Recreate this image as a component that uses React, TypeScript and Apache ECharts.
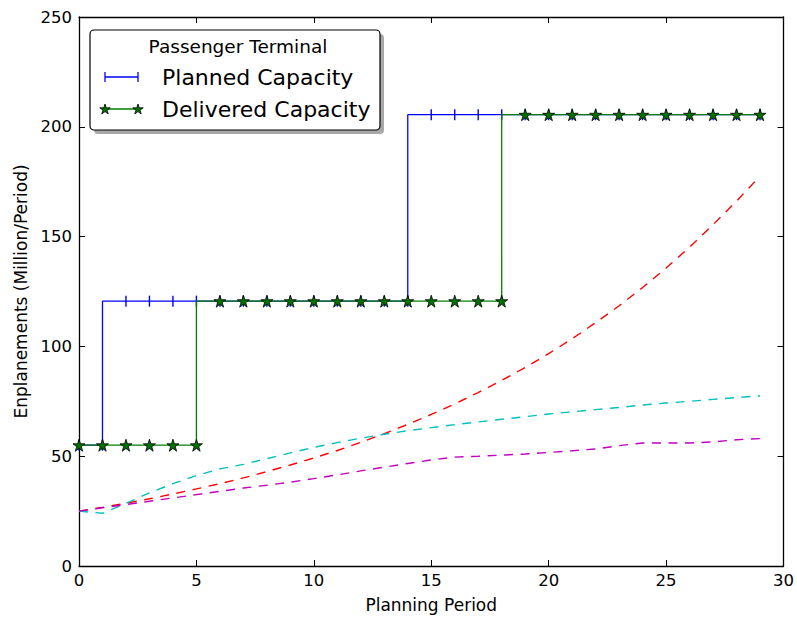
import React, { useEffect, useRef } from "react";
import * as echarts from "echarts";

const periods = [0, 1, 2, 3, 4, 5, 6, 7, 8, 9, 10, 11, 12, 13, 14, 15, 16, 17, 18, 19, 20, 21, 22, 23, 24, 25, 26, 27, 28, 29];
const plannedCapacity = [55, 55, 120.6, 120.6, 120.6, 120.6, 120.6, 120.6, 120.6, 120.6, 120.6, 120.6, 120.6, 120.6, 120.6, 205.5, 205.5, 205.5, 205.5, 205.5, 205.5, 205.5, 205.5, 205.5, 205.5, 205.5, 205.5, 205.5, 205.5, 205.5];
const deliveredCapacity = [55, 55, 55, 55, 55, 55, 120.6, 120.6, 120.6, 120.6, 120.6, 120.6, 120.6, 120.6, 120.6, 120.6, 120.6, 120.6, 120.6, 205.5, 205.5, 205.5, 205.5, 205.5, 205.5, 205.5, 205.5, 205.5, 205.5, 205.5];
const demandHigh = [25, 26.7, 28.6, 30.6, 32.8, 35.1, 37.5, 40.1, 43.0, 46.0, 49.2, 52.6, 56.3, 60.3, 64.5, 69.0, 73.8, 79.0, 84.5, 90.4, 96.7, 103.5, 110.8, 118.5, 126.8, 135.7, 145.2, 155.4, 166.2, 177.5];
const demandMid = [25, 24, 28.5, 33.3, 37.5, 41.2, 44.2, 46.3, 48.9, 51.5, 54.0, 56.2, 58.2, 60, 61.6, 63, 64.4, 65.6, 66.8, 68, 69.2, 70.2, 71.2, 72.2, 73.3, 74.2, 75, 75.9, 76.7, 77.5];
const demandLow = [25, 26.5, 28, 29.5, 31, 32.5, 34, 35.5, 36.8, 38.2, 39.8, 41.5, 43.3, 45, 46.7, 48.3, 49.6, 50, 50.5, 51, 51.7, 52.5, 53.3, 54.8, 56, 56, 56, 56.5, 57.5, 58];
const xTicks = { min: 0, max: 30, interval: 5 };
const yTicks = { min: 0, max: 250, interval: 50 };

const FONT = "DejaVu Sans";
const STAR = "path://M50,0 L61.23,34.55 L97.55,34.55 L68.17,55.9 L79.39,90.45 L50,69.1 L20.61,90.45 L31.83,55.9 L2.45,34.55 L38.77,34.55 Z";
const VBAR = "path://M0,0 L1,0 L1,10 L0,10 Z";

function starPoints(cx: number, cy: number, r: number) {
  const pts: number[][] = [];
  for (let k = 0; k < 10; k++) {
    const rr = k % 2 === 0 ? r : r * 0.382;
    const a = (-90 + k * 36) * Math.PI / 180;
    pts.push([cx + rr * Math.cos(a), cy + rr * Math.sin(a)]);
  }
  return pts;
}

const pair = (ys: number[]) => periods.map((x, i) => [x, ys[i]]);

export default function App() {
  const ref = useRef<HTMLDivElement>(null);
  useEffect(() => {
    document.body.style.margin = "0";
    if (!ref.current) return;
    const chart = echarts.init(ref.current, undefined, { renderer: "svg" });
    const axisCommon = {
      type: "value" as const,
      axisLine: { show: true, onZero: false, lineStyle: { color: "#000", width: 1.3 } },
      axisTick: { show: true, inside: true, length: 6, lineStyle: { color: "#000", width: 1 } },
      splitLine: { show: false },
    };
    const dashed = (name: string, color: string, ys: number[]) => ({
      name,
      type: "line",
      data: pair(ys),
      symbol: "none",
      lineStyle: { color, width: 1.4, type: [9, 7.5] },
      itemStyle: { color },
      z: 3,
    });
    const legendX = 90, legendY = 30, legendW = 290, legendH = 100;
    chart.setOption({
      animation: false,
      textStyle: { fontFamily: FONT },
      grid: { left: 79, right: 11, top: 17, bottom: 54, containLabel: false },
      xAxis: [
        {
          ...axisCommon,
          position: "bottom",
          ...xTicks,
          name: "Planning Period",
          nameLocation: "middle",
          nameGap: 30,
          nameTextStyle: { fontSize: 17, color: "#000", fontFamily: FONT },
          axisLabel: { fontSize: 16.5, color: "#000", margin: 6, fontFamily: FONT },
        },
        {
          ...axisCommon,
          position: "top",
          ...xTicks,
          axisLabel: { show: false },
        },
      ],
      yAxis: [
        {
          ...axisCommon,
          position: "left",
          ...yTicks,
          name: "Enplanements (Million/Period)",
          nameLocation: "middle",
          nameGap: 48,
          nameRotate: 90,
          nameTextStyle: { fontSize: 17, color: "#000", fontFamily: FONT },
          axisLabel: { fontSize: 16.5, color: "#000", margin: 7, fontFamily: FONT },
        },
        {
          ...axisCommon,
          position: "right",
          ...yTicks,
          axisLabel: { show: false },
        },
      ],
      series: [
        {
          name: "Planned Capacity",
          type: "line",
          step: "start",
          data: pair(plannedCapacity),
          symbol: VBAR,
          symbolSize: [1.4, 11],
          showAllSymbol: true,
          lineStyle: { color: "#0000ff", width: 1.3 },
          itemStyle: { color: "#0000ff" },
          z: 4,
        },
        {
          name: "Delivered Capacity",
          type: "line",
          step: "start",
          data: pair(deliveredCapacity),
          symbol: STAR,
          symbolSize: 12,
          showAllSymbol: true,
          lineStyle: { color: "#008000", width: 1.3 },
          itemStyle: { color: "#007000", borderColor: "#000", borderWidth: 0.8 },
          z: 5,
        },
        dashed("High", "#ff0000", demandHigh),
        dashed("Mid", "#00bfbf", demandMid),
        dashed("Low", "#bf00bf", demandLow),
      ],
      graphic: [
        {
          type: "group",
          z: 100,
          children: [
            {
              type: "rect",
              shape: { x: legendX + 4, y: legendY + 4, width: legendW, height: legendH, r: 4 },
              style: { fill: "#a8a8a8" },
            },
            {
              type: "rect",
              shape: { x: legendX, y: legendY, width: legendW, height: legendH, r: 4 },
              style: { fill: "#fff", stroke: "#000", lineWidth: 1.2 },
            },
            {
              type: "text",
              x: 238,
              y: 46,
              style: { text: "Passenger Terminal", fontSize: 18.5, fontFamily: FONT, fill: "#000", align: "center", verticalAlign: "middle" },
            },
            {
              type: "line",
              shape: { x1: 105, y1: 77, x2: 138, y2: 77 },
              style: { stroke: "#0000ff", lineWidth: 1.3 },
            },
            {
              type: "line",
              shape: { x1: 105, y1: 72, x2: 105, y2: 82 },
              style: { stroke: "#0000ff", lineWidth: 1.3 },
            },
            {
              type: "line",
              shape: { x1: 138, y1: 72, x2: 138, y2: 82 },
              style: { stroke: "#0000ff", lineWidth: 1.3 },
            },
            {
              type: "text",
              x: 162,
              y: 77,
              style: { text: "Planned Capacity", fontSize: 22, fontFamily: FONT, fill: "#000", align: "left", verticalAlign: "middle" },
            },
            {
              type: "line",
              shape: { x1: 105, y1: 109, x2: 138, y2: 109 },
              style: { stroke: "#008000", lineWidth: 1.3 },
            },
            {
              type: "polygon",
              shape: { points: starPoints(105, 109.5, 5.5) },
              style: { fill: "#007000", stroke: "#000", lineWidth: 0.8 },
            },
            {
              type: "polygon",
              shape: { points: starPoints(138, 109.5, 5.5) },
              style: { fill: "#007000", stroke: "#000", lineWidth: 0.8 },
            },
            {
              type: "text",
              x: 162,
              y: 109,
              style: { text: "Delivered Capacity", fontSize: 22, fontFamily: FONT, fill: "#000", align: "left", verticalAlign: "middle" },
            },
          ],
        },
      ],
    });
    return () => chart.dispose();
  }, []);
  return <div ref={ref} style={{ width: 797, height: 620 }} />;
}
